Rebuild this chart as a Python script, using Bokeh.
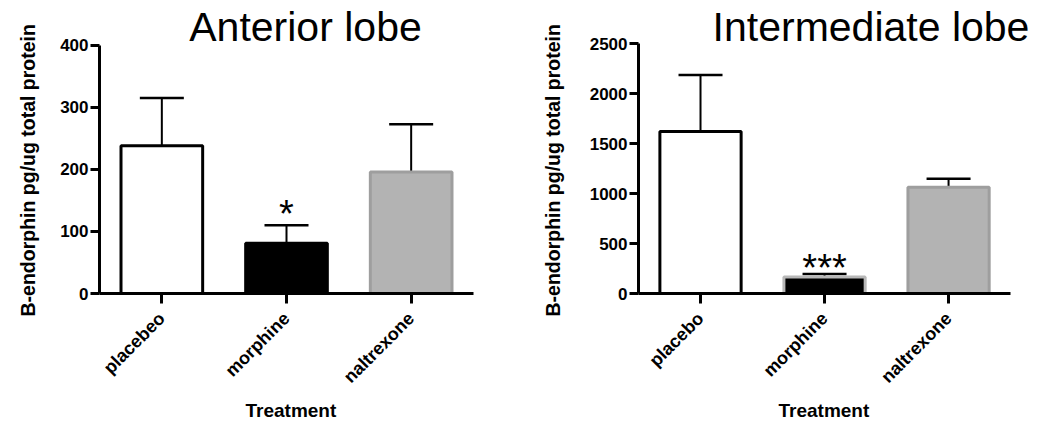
from bokeh.plotting import figure
from bokeh.models import (ColumnDataSource, Whisker, TeeHead, Label, FixedTicker, Range1d,
                          Title)
from bokeh.layouts import row
from bokeh.embed import file_html
from bokeh.resources import INLINE
from bokeh.core.properties import value
from math import pi

# ---- data ----
left_categories = ["placebeo", "morphine", "naltrexone"]
anterior_mean = [238, 81, 196]
anterior_err_upper = [315, 110, 273]
anterior_ticks = [0, 100, 200, 300, 400]

right_categories = ["placebo", "morphine", "naltrexone"]
intermediate_mean = [1620, 165, 1063]
intermediate_err_upper = [2185, 195, 1147]
intermediate_ticks = [0, 500, 1000, 1500, 2000, 2500]

bar_fills = ["white", "black", "#b3b3b3"]
left_lines = ["black", "black", "#9e9e9e"]
right_lines = ["black", "#b8b8b8", "#9e9e9e"]

y_label = "B-endorphin pg/ug total protein"
x_label = "Treatment"

FONT = "Liberation Sans"
FIG_H = 424


def make_panel(title, cats, means, uppers, ticks, lines, width, border_left,
               axis_top_px, axis_bottom_px, axis_right_px, title_cx, title_base,
               star_text, star_offset, ylab_standoff, xlab_offset):
    frame_w = width - border_left
    plot_w = axis_right_px - border_left
    n = len(cats)
    xs = [i + 0.5 for i in range(n)]
    x_end = n * frame_w / plot_w
    ymax = ticks[-1]
    ppu = (axis_bottom_px - axis_top_px) / ymax
    y_end = ymax + axis_top_px / ppu

    p = figure(x_range=Range1d(0, x_end), y_range=Range1d(0, y_end),
               width=width, height=FIG_H, output_backend="svg", toolbar_location=None,
               min_border_left=border_left, min_border_top=0,
               min_border_bottom=FIG_H - axis_bottom_px, min_border_right=0)
    p.outline_line_color = None
    p.grid.visible = False
    p.background_fill_color = "white"
    p.border_fill_color = "white"

    src = ColumnDataSource(dict(x=xs, cat=cats, mean=means, upper=uppers,
                                fill=bar_fills, line=lines))
    p.vbar(x="x", top="mean", bottom=0, width=0.655, source=src,
           fill_color="fill", line_color="line", line_width=3)

    w = Whisker(base="x", upper="upper", lower="mean", source=src, dimension="height",
                line_color="black", line_width=2,
                upper_head=TeeHead(size=44, line_color="black", line_width=2.5),
                lower_head=None)
    p.add_layout(w)

    p.text(x=[xs[1]], y=[uppers[1]], text=[star_text], text_align="center",
           text_baseline="middle", y_offset=star_offset,
           text_font=value(FONT), text_font_size="38px", text_color="black")

    for ax in (p.xaxis[0], p.yaxis[0]):
        ax.axis_line_width = 3
        ax.axis_line_color = "black"
        ax.major_tick_line_width = 3
        ax.major_tick_line_color = "black"
        ax.minor_tick_line_color = None
        ax.major_tick_in = 0
        ax.major_label_text_font = FONT
        ax.major_label_text_font_style = "bold"
        ax.major_label_text_color = "black"

    p.yaxis.ticker = FixedTicker(ticks=ticks)
    p.yaxis.bounds = (0, ymax)
    p.yaxis.major_tick_out = 9
    p.yaxis.major_label_standoff = 2
    p.yaxis.major_label_text_font_size = "17px"

    p.xaxis.ticker = FixedTicker(ticks=xs)
    p.xaxis.major_label_overrides = {x: c for x, c in zip(xs, cats)}
    p.xaxis.bounds = (0, n)
    p.xaxis.major_tick_out = 10
    p.xaxis.major_label_standoff = 12
    p.xaxis.major_label_text_font_size = "18px"
    p.xaxis.major_label_orientation = pi / 4

    # axis titles
    p.add_layout(Title(text=x_label, align="left", offset=xlab_offset, text_font=FONT,
                       text_font_style="bold", text_font_size="19px", standoff=0,
                       text_color="black"), "below")
    p.add_layout(Title(text=y_label, align="left", offset=-23, vertical_align="top",
                       text_font=FONT, text_font_style="bold", text_font_size="19.5px",
                       standoff=ylab_standoff, text_color="black"), "left")

    # chart title inside the (extended) frame
    p.add_layout(Label(x=title_cx, y=axis_bottom_px - title_base + 15,
                       x_units="screen", y_units="screen", text=title,
                       text_align="center", text_baseline="alphabetic",
                       text_font=FONT, text_font_size="41px", text_color="black"))
    return p


p1 = make_panel("Anterior lobe", left_categories, anterior_mean, anterior_err_upper,
                anterior_ticks, left_lines, 520, 99, 45, 294, 473, 206, 42, "*", -11,
                33, 146)
p2 = make_panel("Intermediate lobe", right_categories, intermediate_mean,
                intermediate_err_upper, intermediate_ticks, right_lines, 519, 117, 43, 293,
                490, 232.5, 41, "***", -6, 42, 140)

layout = row(p1, p2)
open("out.html", "w").write(file_html(layout, INLINE))
